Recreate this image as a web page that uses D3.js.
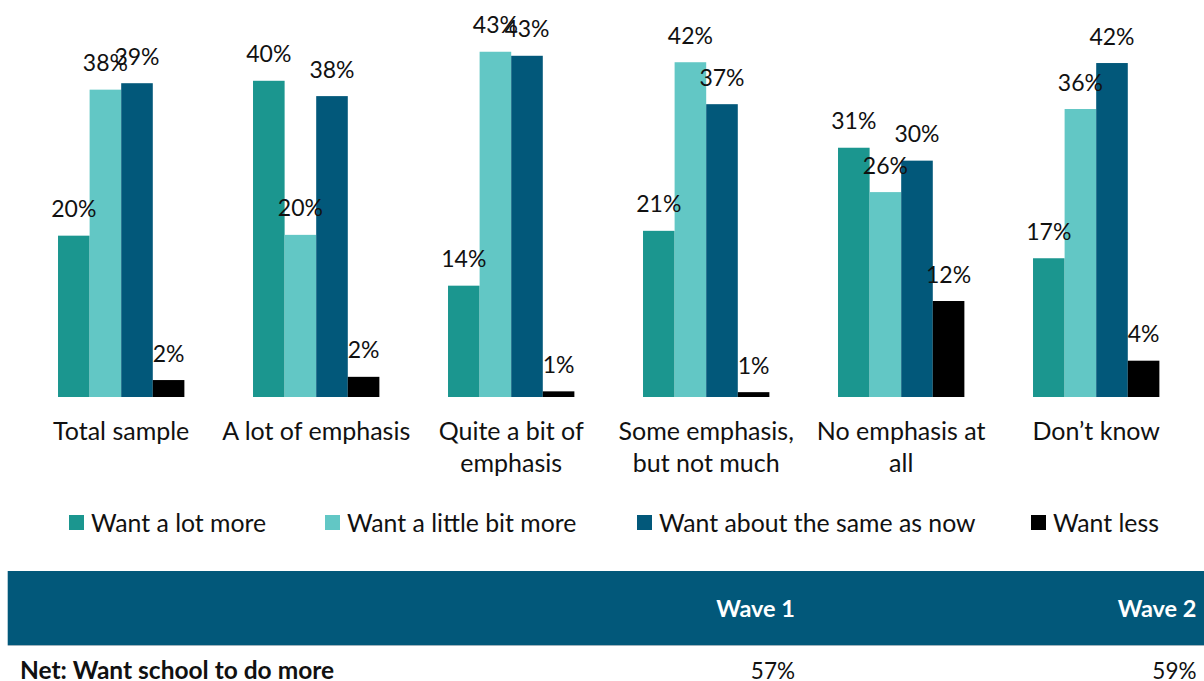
<!DOCTYPE html>
<html>
<head>
<meta charset="utf-8">
<script src="https://cdn.jsdelivr.net/npm/d3@7"></script>
<style>
  body { margin: 0; background: #fff; }
  svg { display: block; font-family: Lato, "Open Sans", sans-serif; }
</style>
</head>
<body>
<svg id="chart" width="1204" height="681"></svg>
<script>
// categories (x axis), two lines where the label wraps
const categories = ["Total sample", "A lot of emphasis", "Quite a bit of emphasis", "Some emphasis, but not much", "No emphasis at all", "Don\u2019t know"];
const categoryLines = [["Total sample"], ["A lot of emphasis"], ["Quite a bit of", "emphasis"], ["Some emphasis,", "but not much"], ["No emphasis at", "all"], ["Don\u2019t know"]];

const seriesNames = ["Want a lot more", "Want a little bit more", "Want about the same as now", "Want less"];

// bar heights (percent)
const wantLotMore   = [20.0, 39.2, 13.8, 20.6, 30.9, 17.2];
const wantLittleMore = [38.1, 20.1, 42.8, 41.5, 25.4, 35.7];
const wantSame      = [38.9, 37.3, 42.3, 36.3, 29.3, 41.4];
const wantLess      = [2.1, 2.5, 0.7, 0.6, 11.9, 4.5];

// printed data labels
const lotMoreLabels   = ["20%", "40%", "14%", "21%", "31%", "17%"];
const littleMoreLabels = ["38%", "20%", "43%", "42%", "26%", "36%"];
const sameLabels      = ["39%", "38%", "43%", "37%", "30%", "42%"];
const lessLabels      = ["2%", "2%", "1%", "1%", "12%", "4%"];

// table under the chart
const tableHeaders = ["Wave 1", "Wave 2"];
const tableRowLabel = "Net: Want school to do more";
const tableRowValues = ["57%", "59%"];

const colors = ["#1b968f", "#62c7c5", "#02587a", "#000000"];

const values = [wantLotMore, wantLittleMore, wantSame, wantLess];
const labels = [lotMoreLabels, littleMoreLabels, sameLabels, lessLabels];

const svg = d3.select("#chart");

const x = d3.scaleBand()
    .domain(categories)
    .range([23.7, 1193.7])
    .paddingInner(0.352)
    .paddingOuter(0.176);

const xSeries = d3.scaleBand()
    .domain(seriesNames)
    .range([0, x.bandwidth()]);

const y = d3.scaleLinear()
    .domain([0, 45])
    .range([397, 34]);

// build flat rows for drawing
let rows = [];
categories.forEach(function(c, i) {
    seriesNames.forEach(function(s, j) {
        rows.push({cat: c, series: s, value: values[j][i], label: labels[j][i], color: colors[j]});
    });
});

let groups = svg.append("g").attr("class", "bars");

groups.selectAll("rect")
    .data(rows)
    .enter()
    .append("rect")
    .attr("x", d => x(d.cat) + xSeries(d.series))
    .attr("y", d => y(d.value))
    .attr("width", xSeries.bandwidth())
    .attr("height", d => y(0) - y(d.value))
    .style("fill", d => d.color);

// data labels sit above each bar (they overlap a little where bars are close, like the original)
groups.selectAll("text")
    .data(rows)
    .enter()
    .append("text")
    .attr("x", d => x(d.cat) + xSeries(d.series) + xSeries.bandwidth() / 2)
    .attr("y", d => y(d.value) - 18.5)
    .attr("text-anchor", "middle")
    .style("font-size", "23px")
    .style("fill", "#111")
    .text(d => d.label);

// category labels
let catLabels = svg.append("g").attr("class", "cat-labels");
categories.forEach(function(c, i) {
    let t = catLabels.append("text")
        .attr("x", x(c) + x.bandwidth() / 2)
        .attr("y", 440)
        .attr("text-anchor", "middle")
        .style("font-size", "25px")
        .style("fill", "#111");
    categoryLines[i].forEach(function(line, k) {
        t.append("tspan")
            .attr("x", x(c) + x.bandwidth() / 2)
            .attr("dy", k === 0 ? 0 : 32)
            .text(line);
    });
});

// legend
const legendX = [69, 325, 637, 1031];
let legend = svg.append("g").attr("class", "legend");
seriesNames.forEach(function(s, j) {
    legend.append("rect")
        .attr("x", legendX[j])
        .attr("y", 515)
        .attr("width", 15)
        .attr("height", 15)
        .style("fill", colors[j]);
    legend.append("text")
        .attr("x", legendX[j] + 22)
        .attr("y", 531.5)
        .style("font-size", "24.8px")
        .style("fill", "#111")
        .text(s);
});

// table
let table = svg.append("g").attr("class", "table");
table.append("rect")
    .attr("x", 7.7)
    .attr("y", 571)
    .attr("width", 1204 - 7.7)
    .attr("height", 74)
    .style("fill", colors[2]);
table.append("line")
    .attr("x1", 7.7).attr("x2", 1204)
    .attr("y1", 645.5).attr("y2", 645.5)
    .style("stroke", "#9fb3bd")
    .style("stroke-width", 1);

const colRight = [795, 1196.5];
tableHeaders.forEach(function(h, k) {
    table.append("text")
        .attr("x", colRight[k])
        .attr("y", 617)
        .attr("text-anchor", "end")
        .style("font-size", "23.5px")
        .style("font-weight", "bold")
        .style("fill", "#fff")
        .text(h);
    // the row sits at the very bottom edge of the picture, as in the original
    table.append("text")
        .attr("x", colRight[k])
        .attr("y", 679)
        .attr("text-anchor", "end")
        .style("font-size", "22.5px")
        .style("fill", "#111")
        .text(tableRowValues[k]);
});
table.append("text")
    .attr("x", 20)
    .attr("y", 679)
    .style("font-size", "24.5px")
    .style("font-weight", "bold")
    .style("fill", "#111")
    .text(tableRowLabel);
</script>
</body>
</html>
